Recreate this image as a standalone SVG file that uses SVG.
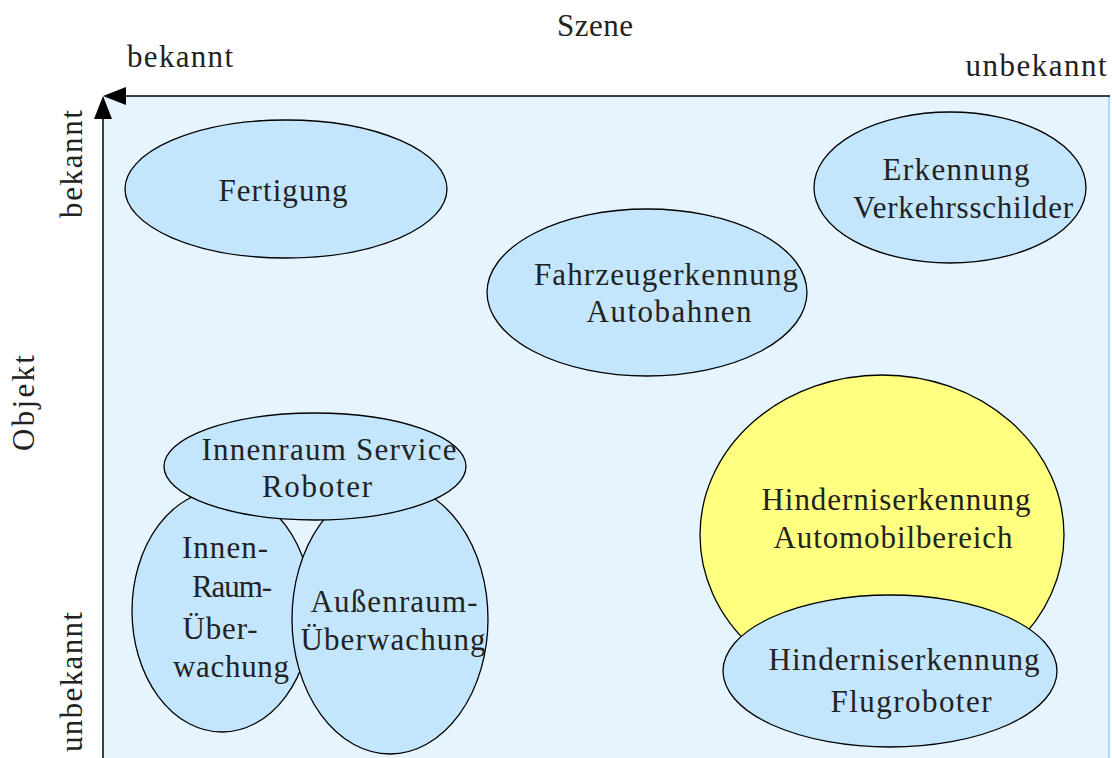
<svg xmlns="http://www.w3.org/2000/svg" width="1112" height="758" viewBox="0 0 1112 758">
<defs>
<style>
.t{font-family:"Liberation Serif","DejaVu Serif",serif;font-size:31px;fill:#222;text-anchor:middle}
.e{fill:#c4e6fd;stroke:#000;stroke-width:1.3}
.y{fill:#ffff80;stroke:#000;stroke-width:1.3}
.ax{stroke:#000;stroke-width:1.5;fill:none}
</style>
</defs>
<rect x="0" y="0" width="1112" height="758" fill="#fff"/>
<rect x="103" y="96" width="1006" height="662" fill="#e6f4fe"/>
<line x1="1109" y1="96" x2="1109" y2="758" stroke="#a9d9fb" stroke-width="2"/>
<g id="axes">
<line class="ax" x1="1110" y1="96" x2="124" y2="96"/>
<path d="M103,96 L126,87 L126,105 Z" fill="#000"/>
<line class="ax" x1="103" y1="758" x2="103" y2="116"/>
<path d="M103,96 L94,119 L112,119 Z" fill="#000"/>
</g>
<g id="labels">
<text class="t" x="595" y="36" textLength="76" lengthAdjust="spacing">Szene</text>
<text class="t" x="180" y="67" textLength="106" lengthAdjust="spacing">bekannt</text>
<text class="t" x="1036" y="76" textLength="141" lengthAdjust="spacing">unbekannt</text>
<text class="t" transform="translate(82,164) rotate(-90)" textLength="108" lengthAdjust="spacing">bekannt</text>
<text class="t" transform="translate(34,403) rotate(-90)" textLength="96" lengthAdjust="spacing">Objekt</text>
<text class="t" transform="translate(82,682) rotate(-90)" textLength="140" lengthAdjust="spacing">unbekannt</text>
</g>
<g id="fertigung">
<ellipse class="e" cx="286" cy="189" rx="161" ry="69"/>
<text class="t" x="283" y="201" textLength="129" lengthAdjust="spacing">Fertigung</text>
</g>
<g id="verkehrsschilder">
<ellipse class="e" cx="950" cy="187.5" rx="136" ry="75.5"/>
<text class="t" x="956" y="180" textLength="147" lengthAdjust="spacing">Erkennung</text>
<text class="t" x="963" y="218" textLength="220" lengthAdjust="spacing">Verkehrsschilder</text>
</g>
<g id="fahrzeugerkennung">
<ellipse class="e" cx="647" cy="292.5" rx="160" ry="83.5"/>
<text class="t" x="666" y="285" textLength="264" lengthAdjust="spacing">Fahrzeugerkennung</text>
<text class="t" x="669" y="322" textLength="165" lengthAdjust="spacing">Autobahnen</text>
</g>
<g id="automobil">
<ellipse class="y" cx="882" cy="535" rx="182" ry="160"/>
<text class="t" x="896" y="510" textLength="269" lengthAdjust="spacing">Hinderniserkennung</text>
<text class="t" x="893" y="548" textLength="239" lengthAdjust="spacing">Automobilbereich</text>
</g>
<g id="flugroboter">
<ellipse class="e" cx="890" cy="671" rx="167" ry="76"/>
<text class="t" x="904" y="670" textLength="271" lengthAdjust="spacing">Hinderniserkennung</text>
<text class="t" x="911" y="712" textLength="161" lengthAdjust="spacing">Flugroboter</text>
</g>
<g id="innenraum-ueberwachung">
<ellipse class="e" cx="222" cy="611" rx="90" ry="121"/>
<text class="t" x="225" y="558" textLength="86" lengthAdjust="spacing">Innen-</text>
<text class="t" x="232" y="597" textLength="80" lengthAdjust="spacing">Raum-</text>
<text class="t" x="220" y="639" textLength="75" lengthAdjust="spacing">Über-</text>
<text class="t" x="231" y="677" textLength="116" lengthAdjust="spacing">wachung</text>
</g>
<g id="aussenraum-ueberwachung">
<ellipse class="e" cx="390" cy="619" rx="98" ry="135"/>
<text class="t" x="394" y="612" textLength="167" lengthAdjust="spacing">Außenraum-</text>
<text class="t" x="393" y="650" textLength="185" lengthAdjust="spacing">Überwachung</text>
</g>
<g id="service-roboter">
<ellipse class="e" cx="315" cy="466.5" rx="151" ry="53.5"/>
<text class="t" x="329" y="460" textLength="255" lengthAdjust="spacing">Innenraum Service</text>
<text class="t" x="317" y="497" textLength="110" lengthAdjust="spacing">Roboter</text>
</g>
</svg>
